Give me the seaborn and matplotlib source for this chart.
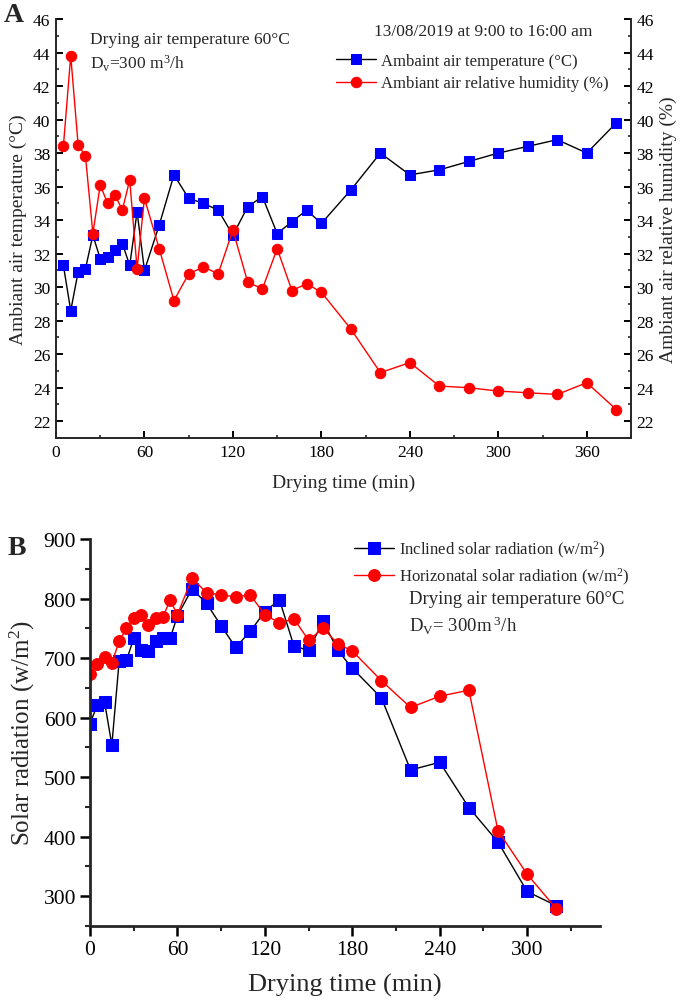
import matplotlib
matplotlib.use("Agg")
import matplotlib.pyplot as plt
import seaborn as sns
from matplotlib.ticker import MultipleLocator

# ---- panel A data ----
time_a = [5, 10, 15, 20, 25, 30, 35, 40, 45, 50, 55, 60, 70, 80, 90, 100, 110, 120,
          130, 140, 150, 160, 170, 180, 200, 220, 240, 260, 280, 300, 320, 340, 360, 380]
air_temp = [31.3, 28.6, 30.9, 31.1, 33.1, 31.7, 31.8, 32.2, 32.6, 31.3, 34.5, 31.0,
            33.7, 36.7, 35.3, 35.0, 34.6, 33.1, 34.8, 35.4, 33.2, 33.9, 34.6, 33.8,
            35.8, 38.0, 36.7, 37.0, 37.5, 38.0, 38.4, 38.8, 38.0, 39.8]
air_rh = [38.4, 43.8, 38.5, 37.8, 33.2, 36.1, 35.0, 35.5, 34.6, 36.4, 31.1, 35.3,
          32.3, 29.2, 30.8, 31.2, 30.8, 33.4, 30.3, 29.9, 32.3, 29.8, 30.2, 29.7,
          27.5, 24.9, 25.5, 24.1, 24.0, 23.8, 23.7, 23.6, 24.3, 22.7]

# ---- panel B data ----
time_b = [0, 5, 10, 15, 20, 25, 30, 35, 40, 45, 50, 55, 60, 70, 80, 90, 100, 110,
          120, 130, 140, 150, 160, 170, 180, 200, 220, 240, 260, 280, 300, 320]
inclined = [590, 621, 626, 554, 695, 696, 733, 714, 712, 729, 734, 733, 771, 816,
            792, 754, 718, 745, 778, 798, 720, 713, 762, 713, 683, 633, 512, 525,
            449, 391, 308, 284]
horizontal = [673, 690, 701, 692, 728, 750, 768, 773, 756, 768, 769, 797, 773, 834,
              810, 806, 803, 806, 773, 759, 766, 730, 750, 724, 712, 662, 617, 636,
              646, 410, 337, 279]

sns.set_theme(style="ticks")
plt.rcParams["font.family"] = ["Liberation Serif", "DejaVu Serif"]
plt.rcParams["mathtext.fontset"] = "custom"
plt.rcParams["mathtext.rm"] = "Liberation Serif"
plt.rcParams["mathtext.it"] = "Liberation Serif:italic"
plt.rcParams["axes.linewidth"] = 1.4

fig = plt.figure(figsize=(6.85, 10.03), dpi=100)
W, H = 685, 1003


def px_axes(left, top, right, bottom):
    return fig.add_axes([left / W, 1 - bottom / H, (right - left) / W, (bottom - top) / H])


# ---------------- panel A ----------------
ax1 = px_axes(56, 20, 631, 439)
ax2 = ax1.twinx()

sns.lineplot(x=time_a, y=air_temp, ax=ax1, color="black", lw=1.0, marker="s",
             markersize=6.5, markerfacecolor="#0000ff", markeredgecolor="#0000ff",
             label="Ambaint air temperature (°C)", legend=False)
sns.lineplot(x=time_a, y=air_rh, ax=ax2, color="#ff0000", lw=1.0, marker="o",
             markersize=7.5, markerfacecolor="#ff0000", markeredgecolor="#ff0000",
             label="Ambiant air relative humidity (%)", legend=False)

for ax in (ax1, ax2):
    ax.set_ylim(21, 46)
    ax.yaxis.set_major_locator(MultipleLocator(2))
    ax.yaxis.set_minor_locator(MultipleLocator(1))
    ax.set_xlim(0, 390)
    ax.spines["top"].set_visible(False)
    ax.tick_params(which="major", direction="in", length=5, width=1.4,
                   labelsize=12.5, colors="black", pad=4)
    ax.tick_params(which="minor", direction="in", length=2.5, width=1.2)
ax1.xaxis.set_major_locator(MultipleLocator(60))
ax1.xaxis.set_minor_locator(MultipleLocator(30))
ax1.spines["right"].set_visible(False)
for sp in ("left", "bottom"):
    ax2.spines[sp].set_visible(False)

ax1.set_xlabel("Drying time (min)", fontsize=14, labelpad=10)
ax1.set_ylabel("Ambiant air temperature (°C)", fontsize=14, labelpad=4)
ax2.set_ylabel("Ambiant air relative humidity (%)", fontsize=14, labelpad=4)

h1, l1 = ax1.get_legend_handles_labels()
h2, l2 = ax2.get_legend_handles_labels()
ax2.legend(h1 + h2, l1 + l2, loc="upper left",
           bbox_to_anchor=((336 - 56) / 575, (439 - 54) / 419),
           frameon=False, fontsize=12, handlelength=2.4, handletextpad=0.3,
           borderpad=0, borderaxespad=0, labelspacing=0.38)

fig.text(90 / W, 1 - 40 / H, "Drying air temperature 60°C", fontsize=12.5, va="center")
fig.text(90 / W, 1 - 64 / H, r"D$_\mathrm{v}$=300 m$^\mathrm{3}$/h", fontsize=12.5, va="center")
fig.text(374 / W, 1 - 32 / H, "13/08/2019 at 9:00 to 16:00 am", fontsize=12.5, va="center")
fig.text(4 / W, 1 - 16 / H, "A", fontsize=20, fontweight="bold", va="center")

# ---------------- panel B ----------------
ax3 = px_axes(90, 540, 600, 927)
sns.lineplot(x=time_b, y=inclined, ax=ax3, color="black", lw=1.0, marker="s",
             markersize=8, markerfacecolor="#0000ff", markeredgecolor="#0000ff",
             label="Inclined solar radiation (w/m$^\\mathrm{2}$)", legend=False)
sns.lineplot(x=time_b, y=horizontal, ax=ax3, color="#ff0000", lw=1.0, marker="o",
             markersize=8.5, markerfacecolor="#ff0000", markeredgecolor="#ff0000",
             label="Horizonatal solar radiation (w/m$^\\mathrm{2}$)", legend=False)

ax3.set_xlim(0, 350)
ax3.set_ylim(250, 900)
ax3.xaxis.set_major_locator(MultipleLocator(60))
ax3.xaxis.set_minor_locator(MultipleLocator(30))
ax3.yaxis.set_major_locator(MultipleLocator(100))
ax3.yaxis.set_minor_locator(MultipleLocator(50))
for sp in ("top", "right"):
    ax3.spines[sp].set_visible(False)
ax3.spines["left"].set_linewidth(2)
ax3.spines["bottom"].set_linewidth(2)
ax3.tick_params(which="major", direction="out", length=7, width=1.8,
                labelsize=15.5, colors="black", pad=3)
ax3.tick_params(which="minor", direction="out", length=3.5, width=1.5)

ax3.set_xlabel("Drying time (min)", fontsize=19, labelpad=10)
ax3.set_ylabel("Solar radiation (w/m$^\\mathrm{2}$)", fontsize=18, labelpad=5)

ax3.legend(loc="upper left", bbox_to_anchor=((354 - 90) / 510, (927 - 540) / 387),
           frameon=False, fontsize=12, handlelength=2.4, handletextpad=0.3,
           borderpad=0, borderaxespad=0, labelspacing=0.35)

fig.text(409 / W, 1 - 600 / H, "Drying air temperature 60°C", fontsize=13.5, va="center")
fig.text(409 / W, 1 - 626 / H, r"D$_\mathrm{V}$= 300m$^\mathrm{\ 3}$/h", fontsize=13.5, va="center")
fig.text(8 / W, 1 - 549 / H, "B", fontsize=20, fontweight="bold", va="center")

fig.savefig("out.png", dpi=100)
